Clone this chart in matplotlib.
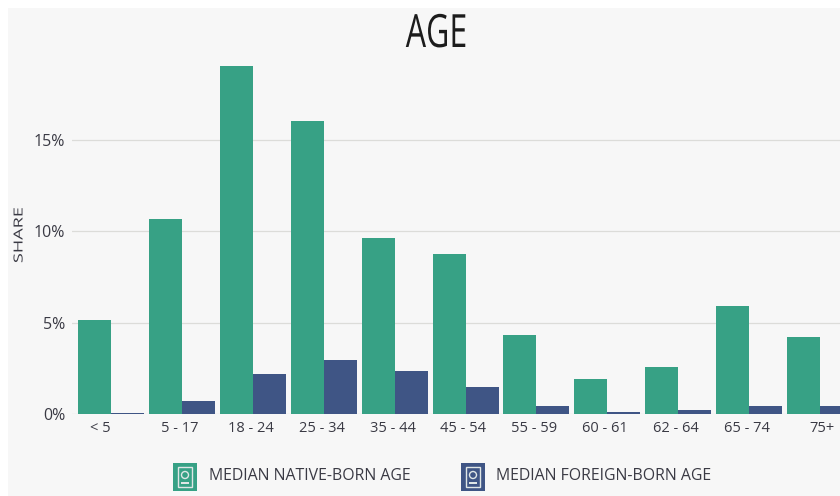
import matplotlib
matplotlib.use('Agg')
import matplotlib.pyplot as plt
from matplotlib.patches import Rectangle, Ellipse
from matplotlib.patheffects import AbstractPathEffect
from matplotlib.transforms import Affine2D, ScaledTranslation

# values
age_groups = ['< 5', '5 - 17', '18 - 24', '25 - 34', '35 - 44', '45 - 54', '55 - 59', '60 - 61', '62 - 64', '65 - 74', '75+']
native_share = [5.15, 10.67, 19.05, 16.04, 9.63, 8.76, 4.32, 1.92, 2.57, 5.91, 4.21]
foreign_share = [0.05, 0.71, 2.19, 2.96, 2.35, 1.48, 0.44, 0.12, 0.20, 0.44, 0.42]
y_ticks = [0, 5, 10, 15]
y_labels = ['0%', '5%', '10%', '15%']

green = '#37a185'
navy = '#3f5585'
bg = '#f7f7f7'
text_col = '#3a3a44'

W, H = 840, 496


class Stretch(AbstractPathEffect):
    # no condensed font installed, so squeeze the glyphs of a real text
    def __init__(self, sx, sy, cx, cy):
        super().__init__()
        self.sx, self.sy, self.cx, self.cy = sx, sy, cx, cy

    def draw_path(self, renderer, gc, tpath, affine, rgbFace=None):
        t = affine + Affine2D().translate(-self.cx, -self.cy).scale(self.sx, self.sy).translate(self.cx, self.cy)
        renderer.draw_path(gc, tpath, t, rgbFace)


fig = plt.figure(figsize=(W / 100, H / 100), dpi=100, facecolor='white')

# light panel behind everything, white edge on top and left
fig.patches.append(Rectangle((8 / W, 0), 1 - 8 / W, 1 - 8 / H, transform=fig.transFigure, facecolor=bg, edgecolor='none', zorder=-5))

# axes placed in pixels: left 72, right edge of the image, baseline at y=414
ax = fig.add_axes([72 / W, (H - 414) / H, (W - 72) / W, (414 - 50) / H])
ax.patch.set_visible(False)

step = 70.9  # pixels per group
bar_w = 33 / step
x = list(range(len(age_groups)))
ax.bar([i - bar_w / 2 for i in x], native_share, width=bar_w, color=green, zorder=3)
ax.bar([i + bar_w / 2 for i in x], foreign_share, width=bar_w, color=navy, zorder=3)

# group 0 centre sits at pixel 111
ax.set_xlim(-(111 - 72) / step, (W - 111) / step)
ax.set_ylim(0, 364 / 18.27)

ax.set_yticks(y_ticks)
ax.set_yticklabels(y_labels, fontsize=11.5, color=text_col, family='Open Sans')
ax.set_xticks(x)
ax.set_xticklabels(age_groups, fontsize=10.5, color=text_col, family='Open Sans')
ax.tick_params(axis='both', length=0)
ax.tick_params(axis='y', pad=5)
ax.tick_params(axis='x', pad=5)
ax.grid(axis='y', color='#dcdcd9', linewidth=0.9, zorder=0)
for s in ax.spines.values():
    s.set_visible(False)

# labels do not sit quite under the group centres in the original
for i, lab in enumerate(ax.get_xticklabels()):
    dx = -11 if i == 0 else (2 if i == len(age_groups) - 1 else -2)
    lab.set_transform(lab.get_transform() + ScaledTranslation(dx / 100, 0, fig.dpi_scale_trans))

fig.text(19 / W, 1 - 235 / H, 'SHARE', rotation=90, ha='center', va='center', fontsize=9, color=text_col, family='Open Sans',
         path_effects=[Stretch(1, 1.45, 19, H - 235)])
fig.text(436.5 / W, 1 - 47 / H, 'AGE', ha='center', va='baseline', fontsize=33, color='#1c1c1c', family='Open Sans',
         path_effects=[Stretch(0.7, 1, 436.5, H - 47)])


def legend_icon(x0, color, label, tx):
    def box(px, py, pw, ph, **kw):
        return Rectangle((px / W, 1 - (py + ph) / H), pw / W, ph / H, transform=fig.transFigure, **kw)

    fig.patches.append(box(x0, 463, 24, 28, facecolor=color, edgecolor='none'))
    fig.patches.append(box(x0 + 5, 467, 14, 20, facecolor='none', edgecolor='#dfe6e6', linewidth=1))
    fig.patches.append(Ellipse(((x0 + 12) / W, 1 - 475 / H), 7 / W, 7 / H, transform=fig.transFigure, facecolor='none', edgecolor='#dfe6e6', linewidth=1))
    fig.patches.append(box(x0 + 8, 482, 8, 2, facecolor='#dfe6e6', edgecolor='none'))
    fig.text(tx / W, 1 - 476 / H, label, ha='left', va='center', fontsize=11.4, color=text_col, family='Open Sans')


legend_icon(173, green, 'MEDIAN NATIVE-BORN AGE', 209)
legend_icon(461, navy, 'MEDIAN FOREIGN-BORN AGE', 496)

fig.savefig('out.png', dpi=100, facecolor=fig.get_facecolor())
